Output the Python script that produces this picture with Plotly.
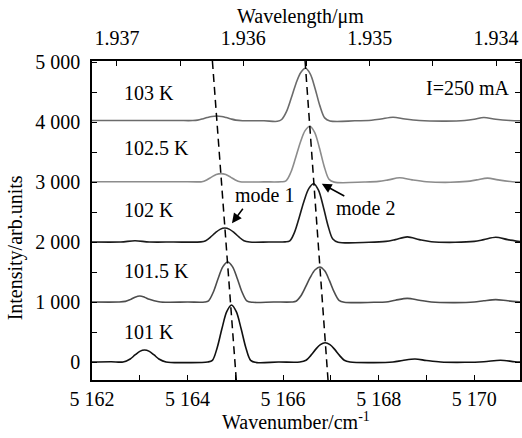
import plotly.graph_objects as go

# Spectra (wavenumber in cm^-1, intensity in arb. units, each trace offset by 1000)
SPEC_101K = [(5162.0, 0), (5162.4, 5), (5162.65, 0), (5162.8, 50), (5162.9, 117), (5163.0, 177),
             (5163.1, 200), (5163.2, 177), (5163.3, 117), (5163.4, 50), (5163.55, 0), (5164.0, -10),
             (5164.42, 0), (5164.52, 28), (5164.62, 238), (5164.72, 558), (5164.82, 839), (5164.92, 950),
             (5165.02, 839), (5165.12, 558), (5165.22, 238), (5165.32, 28), (5165.45, -10), (5165.9, 0),
             (5166.35, 0), (5166.48, 30), (5166.58, 110), (5166.68, 210), (5166.78, 290), (5166.88, 320),
             (5166.98, 290), (5167.08, 210), (5167.18, 110), (5167.28, 30), (5167.4, 0), (5167.9, -10),
             (5168.3, 0), (5168.5, 25), (5168.76, 50), (5169.0, 25), (5169.3, 0), (5169.8, -5),
             (5170.2, 5), (5170.55, 30), (5170.85, 5), (5171.0, 0)]

SPEC_101_5K = [(5162.0, 1000), (5162.55, 1000), (5162.7, 1010), (5162.8, 1040), (5162.9, 1080), (5163.0, 1100),
               (5163.1, 1080), (5163.2, 1045), (5163.4, 1005), (5163.6, 995), (5164.0, 1000), (5164.36, 1000),
               (5164.44, 1020), (5164.54, 1167), (5164.64, 1392), (5164.74, 1589), (5164.84, 1667), (5164.94, 1589),
               (5165.04, 1392), (5165.14, 1167), (5165.24, 1020), (5165.36, 995), (5165.8, 1000), (5166.18, 1000),
               (5166.27, 1012), (5166.37, 1099), (5166.47, 1251), (5166.57, 1414), (5166.67, 1537), (5166.77, 1583),
               (5166.87, 1519), (5166.97, 1356), (5167.07, 1163), (5167.17, 1029), (5167.28, 997), (5167.9, 995),
               (5168.15, 1000), (5168.35, 1030), (5168.6, 1060), (5168.85, 1030), (5169.1, 1000), (5169.6, 990),
               (5170.0, 1000), (5170.2, 1020), (5170.45, 1040), (5170.7, 1020), (5171.0, 1000)]

SPEC_102K = [(5162.0, 2000), (5162.6, 2000), (5162.9, 2020), (5163.2, 2000), (5163.7, 2000), (5164.28, 2002),
             (5164.38, 2022), (5164.48, 2080), (5164.58, 2153), (5164.68, 2211), (5164.78, 2233), (5164.88, 2211),
             (5164.98, 2153), (5165.08, 2080), (5165.18, 2022), (5165.3, 2000), (5165.7, 2000), (5166.04, 2002),
             (5166.14, 2019), (5166.24, 2165), (5166.34, 2417), (5166.44, 2689), (5166.54, 2893), (5166.64, 2970),
             (5166.74, 2863), (5166.84, 2592), (5166.94, 2272), (5167.04, 2049), (5167.15, 1997), (5167.8, 1995),
             (5168.15, 2010), (5168.35, 2040), (5168.6, 2085), (5168.85, 2040), (5169.1, 2005), (5169.6, 1995),
             (5170.0, 2010), (5170.2, 2040), (5170.45, 2080), (5170.7, 2040), (5171.0, 2000)]

SPEC_102_5K = [(5162.0, 3005), (5163.0, 3005), (5163.8, 3005), (5164.2, 3002), (5164.3, 3004), (5164.4, 3035),
               (5164.5, 3082), (5164.6, 3124), (5164.7, 3140), (5164.8, 3124), (5164.9, 3082), (5165.0, 3035),
               (5165.1, 3004), (5165.25, 3000), (5165.6, 3002), (5165.96, 3004), (5166.06, 3019), (5166.16, 3158),
               (5166.26, 3400), (5166.36, 3660), (5166.46, 3857), (5166.56, 3930), (5166.66, 3828), (5166.76, 3567),
               (5166.86, 3260), (5166.96, 3047), (5167.07, 2998), (5167.7, 3000), (5168.0, 3010), (5168.2, 3035),
               (5168.44, 3070), (5168.7, 3035), (5169.0, 3005), (5169.5, 2995), (5169.85, 3010), (5170.05, 3035),
               (5170.28, 3065), (5170.5, 3035), (5170.8, 3005), (5171.0, 3000)]

SPEC_103K = [(5162.0, 4025), (5163.0, 4025), (5163.8, 4025), (5164.11, 4025), (5164.21, 4032), (5164.31, 4051),
             (5164.41, 4074), (5164.51, 4093), (5164.61, 4100), (5164.71, 4093), (5164.81, 4074), (5164.91, 4051),
             (5165.01, 4032), (5165.15, 4022), (5165.6, 4020), (5165.88, 4012), (5165.97, 4042), (5166.07, 4173),
             (5166.17, 4399), (5166.27, 4643), (5166.37, 4826), (5166.47, 4895), (5166.57, 4799), (5166.67, 4556),
             (5166.77, 4269), (5166.87, 4069), (5166.98, 4018), (5167.5, 4020), (5167.85, 4030), (5168.05, 4050),
             (5168.3, 4080), (5168.55, 4050), (5168.85, 4025), (5169.4, 4015), (5169.8, 4025), (5170.0, 4045),
             (5170.2, 4075), (5170.45, 4045), (5170.75, 4025), (5171.0, 4020)]

TEMPERATURES = ["101 K", "101.5 K", "102 K", "102.5 K", "103 K"]
SPECTRA = [SPEC_101K, SPEC_101_5K, SPEC_102K, SPEC_102_5K, SPEC_103K]
LINE_COLORS = ["#111111", "#4d4d4d", "#1a1a1a", "#8c8c8c", "#6b6b6b"]
LABEL_Y = [492, 1517, 2533, 3567, 4492]

# Guide lines following the two mode peaks
MODE1_GUIDE_X = [5164.52, 5165.02]
MODE2_GUIDE_X = [5166.46, 5166.94]
GUIDE_Y = [5017, -300]

# Axis ticks
WAVENUMBER_TICKS = [5162, 5163, 5164, 5165, 5166, 5167, 5168, 5169, 5170]
WAVENUMBER_TEXT = ["5 162", "", "5 164", "", "5 166", "", "5 168", "", "5 170"]
WAVELENGTH_TICKS = [1.937, 1.9365, 1.936, 1.9355, 1.935, 1.9345, 1.934]
WAVELENGTH_TEXT = ["1.937", "", "1.936", "", "1.935", "", "1.934"]
INTENSITY_TICKS = [0, 500, 1000, 1500, 2000, 2500, 3000, 3500, 4000, 4500, 5000]
INTENSITY_TEXT = ["0", "", "1 000", "", "2 000", "", "3 000", "", "4 000", "", "5 000"]

FONT = "Liberation Serif"
FS = 20

fig = go.Figure()

for spec, color in zip(SPECTRA, LINE_COLORS):
    xs = [p[0] for p in spec]
    ys = [p[1] for p in spec]
    fig.add_trace(go.Scatter(x=xs, y=ys, mode="lines", showlegend=False, hoverinfo="skip",
                             line=dict(color=color, width=1.6, shape="spline", smoothing=0.9)))

for gx in (MODE1_GUIDE_X, MODE2_GUIDE_X):
    fig.add_trace(go.Scatter(x=gx, y=GUIDE_Y, mode="lines", showlegend=False, hoverinfo="skip",
                             line=dict(color="black", width=1.5, dash="8px,5px")))

# invisible trace so the wavelength axis is drawn
fig.add_trace(go.Scatter(x=[WAVELENGTH_TICKS[0], WAVELENGTH_TICKS[-1]], y=[0, 0], xaxis="x2",
                         mode="markers", marker=dict(opacity=0), showlegend=False, hoverinfo="skip"))

axis_common = dict(showgrid=False, zeroline=False, showline=True, linecolor="black", linewidth=1.5,
                   ticks="inside", ticklen=5, tickwidth=1, tickcolor="black",
                   tickfont=dict(family=FONT, size=FS, color="black"))

fig.update_layout(
    width=522, height=438,
    margin=dict(l=92, r=0, t=61, b=58),
    paper_bgcolor="white", plot_bgcolor="white",
    font=dict(family=FONT, size=FS, color="black"),
    xaxis=dict(range=[5162, 5170.958], tickmode="array", tickvals=WAVENUMBER_TICKS,
               ticktext=WAVENUMBER_TEXT, ticklabelstandoff=0, **axis_common),
    xaxis2=dict(range=[1.937197, 1.933811], overlaying="x", side="top", tickmode="array",
                tickvals=WAVELENGTH_TICKS, ticktext=WAVELENGTH_TEXT, ticklabelstandoff=6, **axis_common),
    yaxis=dict(range=[-300, 5017], tickmode="array", tickvals=INTENSITY_TICKS,
               ticktext=INTENSITY_TEXT, mirror="ticks", ticklabelstandoff=6, **axis_common),
)

txt = dict(family=FONT, size=FS, color="black")
ann = []
for name, ly in zip(TEMPERATURES, LABEL_Y):
    ann.append(dict(x=5162.625, y=ly, text=name, showarrow=False, xanchor="left", yanchor="middle", font=txt))

ann.append(dict(x=5170.77, y=4567, text="I=250 mA", showarrow=False, xanchor="right", yanchor="middle", font=txt))

# mode arrows pointing at the 102 K peaks
m1_peak = max((p for p in SPEC_102K if p[0] < 5165.5), key=lambda p: p[1])
m2_peak = max((p for p in SPEC_102K if p[0] > 5165.5), key=lambda p: p[1])
ann.append(dict(x=m1_peak[0] + 0.15, y=m1_peak[1] + 80, ax=12, ay=-16, text="", showarrow=True,
                arrowhead=2, arrowsize=1.3, arrowwidth=1.5, arrowcolor="black"))
ann.append(dict(x=m2_peak[0] + 0.17, y=m2_peak[1], ax=24, ay=13, text="", showarrow=True,
                arrowhead=2, arrowsize=1.3, arrowwidth=1.5, arrowcolor="black"))
ann.append(dict(x=5165.60, y=2783, text="mode 1", showarrow=False, xanchor="center", yanchor="middle", font=txt))
ann.append(dict(x=5167.72, y=2567, text="mode 2", showarrow=False, xanchor="center", yanchor="middle", font=txt))

# axis titles
ann.append(dict(xref="paper", yref="paper", x=0.477, y=-0.1285, text="Wavenumber/cm<sup>-1</sup>",
                showarrow=False, xanchor="center", yanchor="middle", font=txt))
ann.append(dict(xref="paper", yref="paper", x=0.486, y=1.141, text="Wavelength/μm",
                showarrow=False, xanchor="center", yanchor="middle", font=txt))
ann.append(dict(xref="paper", yref="paper", x=-0.1767, y=0.4138, text="Intensity/arb.units", textangle=-90,
                showarrow=False, xanchor="center", yanchor="middle", font=txt))

fig.update_layout(annotations=ann)
fig.write_html("out.html")
